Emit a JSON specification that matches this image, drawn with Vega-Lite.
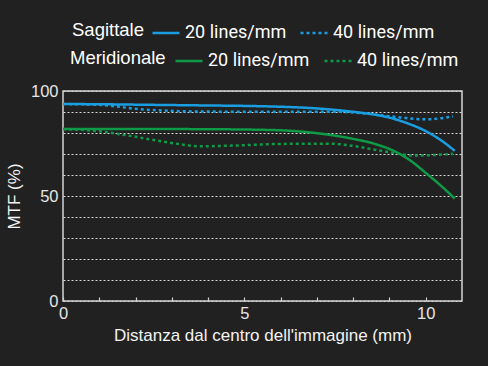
{
  "$schema": "https://vega.github.io/schema/vega-lite/v6.json",
  "width": 399,
  "height": 210,
  "autosize": "none",
  "padding": {"left": 63, "top": 91, "right": 26, "bottom": 65},
  "background": "#212121",
  "config": {
    "view": {"stroke": "#d4d4d4", "strokeWidth": 1.5},
    "axis": {"labelColor": "#e6e6e6", "titleColor": "#f2f2f2", "labelFont": "Liberation Sans", "titleFont": "Liberation Sans", "titleFontWeight": "normal"},
    "legend": {"titleColor": "#ffffff", "labelColor": "#ffffff", "titleFont": "Liberation Sans", "labelFont": "Roboto", "titleFontWeight": "normal"}
  },
  "data": {
    "values": [
      {"x": 0, "mtf": 93.8, "dir": "Sagittale", "freq": "20 lines/mm"},
      {"x": 1, "mtf": 93.7, "dir": "Sagittale", "freq": "20 lines/mm"},
      {"x": 2, "mtf": 93.5, "dir": "Sagittale", "freq": "20 lines/mm"},
      {"x": 3, "mtf": 93.3, "dir": "Sagittale", "freq": "20 lines/mm"},
      {"x": 4, "mtf": 93.1, "dir": "Sagittale", "freq": "20 lines/mm"},
      {"x": 5, "mtf": 92.9, "dir": "Sagittale", "freq": "20 lines/mm"},
      {"x": 6, "mtf": 92.5, "dir": "Sagittale", "freq": "20 lines/mm"},
      {"x": 7, "mtf": 91.7, "dir": "Sagittale", "freq": "20 lines/mm"},
      {"x": 8, "mtf": 90.1, "dir": "Sagittale", "freq": "20 lines/mm"},
      {"x": 8.5, "mtf": 89.0, "dir": "Sagittale", "freq": "20 lines/mm"},
      {"x": 9, "mtf": 87.3, "dir": "Sagittale", "freq": "20 lines/mm"},
      {"x": 9.5, "mtf": 84.6, "dir": "Sagittale", "freq": "20 lines/mm"},
      {"x": 10, "mtf": 80.9, "dir": "Sagittale", "freq": "20 lines/mm"},
      {"x": 10.4, "mtf": 76.8, "dir": "Sagittale", "freq": "20 lines/mm"},
      {"x": 10.8, "mtf": 71.5, "dir": "Sagittale", "freq": "20 lines/mm"},
      {"x": 0, "mtf": 93.8, "dir": "Sagittale", "freq": "40 lines/mm"},
      {"x": 1, "mtf": 93.4, "dir": "Sagittale", "freq": "40 lines/mm"},
      {"x": 1.5, "mtf": 92.6, "dir": "Sagittale", "freq": "40 lines/mm"},
      {"x": 2, "mtf": 91.5, "dir": "Sagittale", "freq": "40 lines/mm"},
      {"x": 2.9, "mtf": 90.6, "dir": "Sagittale", "freq": "40 lines/mm"},
      {"x": 4, "mtf": 90.2, "dir": "Sagittale", "freq": "40 lines/mm"},
      {"x": 6, "mtf": 90.1, "dir": "Sagittale", "freq": "40 lines/mm"},
      {"x": 7.6, "mtf": 90.1, "dir": "Sagittale", "freq": "40 lines/mm"},
      {"x": 8.5, "mtf": 89.0, "dir": "Sagittale", "freq": "40 lines/mm"},
      {"x": 9.3, "mtf": 87.4, "dir": "Sagittale", "freq": "40 lines/mm"},
      {"x": 10, "mtf": 86.5, "dir": "Sagittale", "freq": "40 lines/mm"},
      {"x": 10.4, "mtf": 87.0, "dir": "Sagittale", "freq": "40 lines/mm"},
      {"x": 10.75, "mtf": 87.9, "dir": "Sagittale", "freq": "40 lines/mm"},
      {"x": 0, "mtf": 81.9, "dir": "Meridionale", "freq": "20 lines/mm"},
      {"x": 2, "mtf": 81.9, "dir": "Meridionale", "freq": "20 lines/mm"},
      {"x": 4, "mtf": 81.8, "dir": "Meridionale", "freq": "20 lines/mm"},
      {"x": 5.8, "mtf": 81.4, "dir": "Meridionale", "freq": "20 lines/mm"},
      {"x": 7, "mtf": 79.9, "dir": "Meridionale", "freq": "20 lines/mm"},
      {"x": 8, "mtf": 77.2, "dir": "Meridionale", "freq": "20 lines/mm"},
      {"x": 8.6, "mtf": 74.8, "dir": "Meridionale", "freq": "20 lines/mm"},
      {"x": 9.2, "mtf": 70.8, "dir": "Meridionale", "freq": "20 lines/mm"},
      {"x": 9.6, "mtf": 66.6, "dir": "Meridionale", "freq": "20 lines/mm"},
      {"x": 10, "mtf": 61.0, "dir": "Meridionale", "freq": "20 lines/mm"},
      {"x": 10.4, "mtf": 55.2, "dir": "Meridionale", "freq": "20 lines/mm"},
      {"x": 10.8, "mtf": 48.8, "dir": "Meridionale", "freq": "20 lines/mm"},
      {"x": 0, "mtf": 81.9, "dir": "Meridionale", "freq": "40 lines/mm"},
      {"x": 1, "mtf": 80.8, "dir": "Meridionale", "freq": "40 lines/mm"},
      {"x": 1.9, "mtf": 78.5, "dir": "Meridionale", "freq": "40 lines/mm"},
      {"x": 2.9, "mtf": 75.5, "dir": "Meridionale", "freq": "40 lines/mm"},
      {"x": 3.8, "mtf": 73.7, "dir": "Meridionale", "freq": "40 lines/mm"},
      {"x": 4.7, "mtf": 74.0, "dir": "Meridionale", "freq": "40 lines/mm"},
      {"x": 6, "mtf": 74.8, "dir": "Meridionale", "freq": "40 lines/mm"},
      {"x": 7.4, "mtf": 74.9, "dir": "Meridionale", "freq": "40 lines/mm"},
      {"x": 7.9, "mtf": 74.1, "dir": "Meridionale", "freq": "40 lines/mm"},
      {"x": 8.55, "mtf": 72.2, "dir": "Meridionale", "freq": "40 lines/mm"},
      {"x": 9.2, "mtf": 70.3, "dir": "Meridionale", "freq": "40 lines/mm"},
      {"x": 9.65, "mtf": 69.3, "dir": "Meridionale", "freq": "40 lines/mm"},
      {"x": 10.2, "mtf": 69.5, "dir": "Meridionale", "freq": "40 lines/mm"},
      {"x": 10.75, "mtf": 70.1, "dir": "Meridionale", "freq": "40 lines/mm"}
    ]
  },
  "encoding": {
    "x": {
      "field": "x", "type": "quantitative",
      "scale": {"domain": [0, 11], "nice": false, "zero": false},
      "axis": {
        "title": "Distanza dal centro dell'immagine (mm)",
        "values": [0, 1, 2, 3, 4, 5, 6, 7, 8, 9, 10],
        "labelExpr": "datum.value % 5 === 0 ? datum.label : ''",
        "domain": false, "grid": false,
        "tickSize": -4, "tickColor": "#cfcfcf", "tickWidth": 1.2,
        "labelFontSize": 16.5, "labelPadding": 8, "labelFlush": false,
        "titleFontSize": 17, "titlePadding": 6
      }
    },
    "y": {
      "field": "mtf", "type": "quantitative",
      "scale": {"domain": [0, 100], "nice": false},
      "axis": {
        "title": "MTF (%)",
        "values": [0, 10, 20, 30, 40, 50, 60, 70, 80, 90, 100],
        "labelExpr": "datum.value % 50 === 0 ? datum.label : ''",
        "domain": false, "ticks": false,
        "grid": true, "gridColor": "#d8d8d8", "gridDash": [2, 2], "gridWidth": 1.2,
        "labelFontSize": 16.5, "labelPadding": 5, "labelFlush": false,
        "titleFontSize": 17, "titlePadding": 7
      }
    }
  },
  "layer": [
    {
      "transform": [{"filter": "datum.dir === 'Sagittale'"}],
      "mark": {"type": "line", "interpolate": "monotone", "strokeWidth": 2.5},
      "encoding": {
        "color": {
          "field": "freq", "type": "nominal",
          "scale": {"domain": ["20 lines/mm", "40 lines/mm"], "range": ["#1a9ee2", "#1a9ee2"]},
          "legend": {"title": "Sagittale", "orient": "none", "legendX": 9, "legendY": -73, "direction": "horizontal", "titleOrient": "left", "titleFontSize": 18.5, "titlePadding": 7, "labelFontSize": 18, "labelOffset": 4, "columnPadding": 8, "symbolType": "stroke", "symbolSize": 729, "symbolStrokeWidth": 2.5}
        },
        "strokeDash": {
          "field": "freq", "type": "nominal",
          "scale": {"domain": ["20 lines/mm", "40 lines/mm"], "range": [[1, 0], [3, 3]]},
          "legend": {"title": "Sagittale", "orient": "none", "legendX": 9, "legendY": -73, "direction": "horizontal", "titleOrient": "left", "titleFontSize": 18.5, "titlePadding": 7, "labelFontSize": 18, "labelOffset": 4, "columnPadding": 8, "symbolType": "stroke", "symbolSize": 729, "symbolStrokeWidth": 2.5}
        }
      }
    },
    {
      "transform": [{"filter": "datum.dir === 'Meridionale'"}],
      "mark": {"type": "line", "interpolate": "monotone", "strokeWidth": 2.5},
      "encoding": {
        "color": {
          "field": "freq", "type": "nominal",
          "scale": {"domain": ["20 lines/mm", "40 lines/mm"], "range": ["#0e9a47", "#0e9a47"]},
          "legend": {"title": "Meridionale", "orient": "none", "legendX": 7, "legendY": -45, "direction": "horizontal", "titleOrient": "left", "titleFontSize": 18.5, "titlePadding": 8, "labelFontSize": 18, "labelOffset": 4, "columnPadding": 9, "symbolType": "stroke", "symbolSize": 729, "symbolStrokeWidth": 2.5}
        },
        "strokeDash": {
          "field": "freq", "type": "nominal",
          "scale": {"domain": ["20 lines/mm", "40 lines/mm"], "range": [[1, 0], [3, 3]]},
          "legend": {"title": "Meridionale", "orient": "none", "legendX": 7, "legendY": -45, "direction": "horizontal", "titleOrient": "left", "titleFontSize": 18.5, "titlePadding": 8, "labelFontSize": 18, "labelOffset": 4, "columnPadding": 9, "symbolType": "stroke", "symbolSize": 729, "symbolStrokeWidth": 2.5}
        }
      }
    }
  ],
  "resolve": {"scale": {"color": "independent", "strokeDash": "independent"}, "legend": {"color": "independent", "strokeDash": "independent"}}
}
